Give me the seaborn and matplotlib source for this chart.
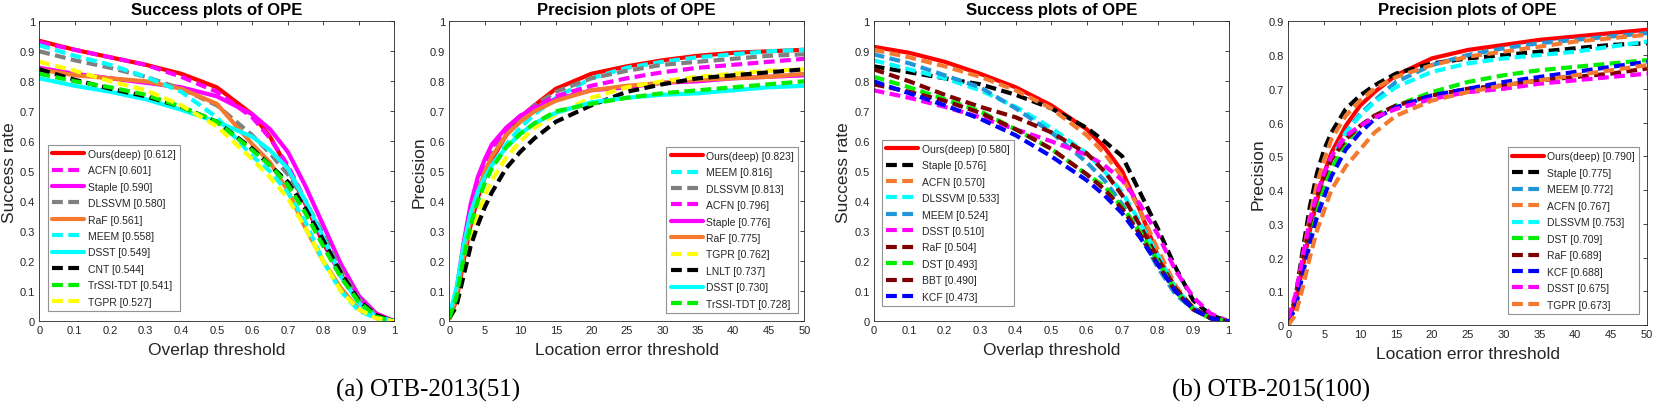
import numpy as np
import matplotlib
matplotlib.use("Agg")
import matplotlib.pyplot as plt
import seaborn as sns

sns.set_theme(style="white")
plt.rcParams['font.family'] = ['Liberation Sans', 'DejaVu Sans']

# x grids
overlap = [0, .1, .2, .3, .4, .5, .6, .65, .7, .75, .8, .85, .9, .95, 1.0]
loc_err = [0, 1, 2, 3, 4, 5, 6, 8, 10, 12, 15, 20, 25, 30, 35, 40, 45, 50]

# (a) OTB-2013 success
a_succ_names = ["Ours(deep) [0.612]", "ACFN [0.601]", "Staple [0.590]", "DLSSVM [0.580]", "RaF [0.561]",
                "MEEM [0.558]", "DSST [0.549]", "CNT [0.544]", "TrSSI-TDT [0.541]", "TGPR [0.527]"]
a_succ_ours = [0.935, 0.905, 0.88, 0.855, 0.825, 0.78, 0.69, 0.615, 0.51, 0.39, 0.26, 0.155, 0.075, 0.025, 0.0]
a_succ_acfn = [0.93, 0.905, 0.88, 0.855, 0.815, 0.765, 0.68, 0.61, 0.52, 0.40, 0.27, 0.15, 0.07, 0.02, 0]
a_succ_staple = [0.845, 0.825, 0.81, 0.795, 0.78, 0.75, 0.69, 0.64, 0.565, 0.45, 0.32, 0.19, 0.085, 0.025, 0]
a_succ_dlssvm = [0.90, 0.87, 0.845, 0.815, 0.775, 0.72, 0.62, 0.56, 0.49, 0.40, 0.29, 0.17, 0.075, 0.02, 0]
a_succ_raf = [0.84, 0.82, 0.81, 0.80, 0.775, 0.725, 0.59, 0.53, 0.435, 0.31, 0.20, 0.11, 0.04, 0.01, 0]
a_succ_meem = [0.92, 0.885, 0.855, 0.815, 0.765, 0.68, 0.55, 0.50, 0.43, 0.33, 0.20, 0.10, 0.035, 0.01, 0]
a_succ_dsst = [0.81, 0.785, 0.765, 0.74, 0.705, 0.665, 0.615, 0.57, 0.51, 0.40, 0.28, 0.15, 0.06, 0.015, 0]
a_succ_cnt = [0.84, 0.805, 0.775, 0.75, 0.715, 0.665, 0.575, 0.52, 0.465, 0.375, 0.27, 0.16, 0.07, 0.02, 0]
a_succ_trssi = [0.825, 0.80, 0.78, 0.755, 0.715, 0.665, 0.57, 0.52, 0.455, 0.36, 0.25, 0.145, 0.065, 0.015, 0]
a_succ_tgpr = [0.865, 0.835, 0.80, 0.77, 0.72, 0.65, 0.54, 0.48, 0.41, 0.31, 0.20, 0.10, 0.04, 0.01, 0]

# (a) OTB-2013 precision
a_prec_names = ["Ours(deep) [0.823]", "MEEM [0.816]", "DLSSVM [0.813]", "ACFN [0.796]", "Staple [0.776]",
                "RaF [0.775]", "TGPR [0.762]", "LNLT [0.737]", "DSST [0.730]", "TrSSI-TDT [0.728]"]
a_prec_ours = [0.01, 0.07, 0.2, 0.32, 0.41, 0.48, 0.54, 0.62, 0.68, 0.72, 0.775, 0.825, 0.85, 0.87, 0.885, 0.895, 0.90, 0.905]
a_prec_meem = [0.01, 0.08, 0.22, 0.33, 0.41, 0.47, 0.52, 0.59, 0.645, 0.69, 0.745, 0.81, 0.845, 0.865, 0.88, 0.89, 0.9, 0.905]
a_prec_dlssvm = [0.01, 0.08, 0.22, 0.34, 0.43, 0.50, 0.56, 0.63, 0.68, 0.72, 0.765, 0.81, 0.835, 0.855, 0.865, 0.875, 0.885, 0.89]
a_prec_acfn = [0.01, 0.09, 0.24, 0.37, 0.46, 0.53, 0.58, 0.64, 0.685, 0.715, 0.75, 0.785, 0.81, 0.83, 0.845, 0.855, 0.865, 0.875]
a_prec_staple = [0.01, 0.1, 0.26, 0.39, 0.48, 0.54, 0.59, 0.645, 0.685, 0.71, 0.74, 0.77, 0.78, 0.795, 0.80, 0.81, 0.815, 0.82]
a_prec_raf = [0.01, 0.08, 0.22, 0.34, 0.43, 0.50, 0.55, 0.62, 0.665, 0.70, 0.735, 0.77, 0.785, 0.795, 0.805, 0.81, 0.815, 0.825]
a_prec_tgpr = [0.01, 0.05, 0.16, 0.27, 0.35, 0.42, 0.47, 0.545, 0.60, 0.645, 0.69, 0.745, 0.78, 0.80, 0.815, 0.825, 0.835, 0.84]
a_prec_lnlt = [0.01, 0.05, 0.15, 0.25, 0.32, 0.38, 0.43, 0.51, 0.565, 0.61, 0.665, 0.72, 0.765, 0.79, 0.81, 0.82, 0.83, 0.84]
a_prec_dsst = [0.02, 0.11, 0.25, 0.36, 0.43, 0.48, 0.52, 0.58, 0.625, 0.66, 0.695, 0.73, 0.745, 0.755, 0.76, 0.77, 0.78, 0.785]
a_prec_trssi = [0.01, 0.08, 0.21, 0.32, 0.40, 0.46, 0.51, 0.58, 0.625, 0.66, 0.70, 0.725, 0.745, 0.76, 0.77, 0.78, 0.79, 0.80]

# (b) OTB-2015 success
b_succ_names = ["Ours(deep) [0.580]", "Staple [0.576]", "ACFN [0.570]", "DLSSVM [0.533]", "MEEM [0.524]",
                "DSST [0.510]", "RaF [0.504]", "DST [0.493]", "BBT [0.490]", "KCF [0.473]"]
b_succ_ours = [0.915, 0.895, 0.865, 0.825, 0.78, 0.72, 0.64, 0.58, 0.50, 0.37, 0.22, 0.11, 0.04, 0.01, 0]
b_succ_staple = [0.85, 0.83, 0.81, 0.79, 0.755, 0.71, 0.645, 0.60, 0.55, 0.43, 0.31, 0.18, 0.07, 0.02, 0]
b_succ_acfn = [0.905, 0.88, 0.85, 0.815, 0.77, 0.71, 0.62, 0.56, 0.48, 0.37, 0.24, 0.12, 0.04, 0.01, 0]
b_succ_dlssvm = [0.87, 0.84, 0.81, 0.77, 0.715, 0.645, 0.56, 0.50, 0.43, 0.33, 0.22, 0.11, 0.045, 0.01, 0]
b_succ_meem = [0.89, 0.86, 0.82, 0.78, 0.71, 0.63, 0.53, 0.47, 0.39, 0.29, 0.18, 0.09, 0.04, 0.01, 0]
b_succ_dsst = [0.77, 0.745, 0.715, 0.68, 0.64, 0.60, 0.555, 0.52, 0.47, 0.39, 0.29, 0.17, 0.08, 0.025, 0]
b_succ_raf = [0.84, 0.80, 0.755, 0.715, 0.68, 0.63, 0.56, 0.50, 0.42, 0.32, 0.21, 0.11, 0.045, 0.01, 0]
b_succ_dst = [0.815, 0.78, 0.74, 0.70, 0.64, 0.575, 0.49, 0.45, 0.38, 0.30, 0.20, 0.10, 0.04, 0.01, 0]
b_succ_bbt = [0.79, 0.765, 0.735, 0.695, 0.64, 0.575, 0.49, 0.44, 0.375, 0.29, 0.19, 0.10, 0.04, 0.01, 0]
b_succ_kcf = [0.80, 0.76, 0.72, 0.675, 0.62, 0.55, 0.47, 0.42, 0.36, 0.28, 0.19, 0.10, 0.04, 0.01, 0]

# (b) OTB-2015 precision
b_prec_names = ["Ours(deep) [0.790]", "Staple [0.775]", "MEEM [0.772]", "ACFN [0.767]", "DLSSVM [0.753]",
                "DST [0.709]", "RaF [0.689]", "KCF [0.688]", "DSST [0.675]", "TGPR [0.673]"]
b_prec_ours = [0.01, 0.07, 0.17, 0.28, 0.37, 0.45, 0.51, 0.59, 0.65, 0.69, 0.74, 0.79, 0.815, 0.83, 0.845, 0.855, 0.865, 0.875]
b_prec_staple = [0.01, 0.08, 0.22, 0.35, 0.45, 0.52, 0.57, 0.64, 0.68, 0.71, 0.745, 0.775, 0.79, 0.80, 0.81, 0.82, 0.83, 0.835]
b_prec_meem = [0.01, 0.06, 0.16, 0.26, 0.35, 0.43, 0.49, 0.57, 0.625, 0.665, 0.72, 0.77, 0.80, 0.82, 0.835, 0.845, 0.855, 0.865]
b_prec_acfn = [0.01, 0.07, 0.2, 0.32, 0.42, 0.49, 0.55, 0.62, 0.665, 0.70, 0.735, 0.77, 0.795, 0.81, 0.825, 0.84, 0.85, 0.86]
b_prec_dlssvm = [0.01, 0.06, 0.16, 0.26, 0.35, 0.43, 0.49, 0.57, 0.62, 0.66, 0.705, 0.75, 0.775, 0.79, 0.80, 0.81, 0.825, 0.84]
b_prec_dst = [0.01, 0.06, 0.16, 0.26, 0.34, 0.41, 0.46, 0.54, 0.59, 0.62, 0.65, 0.69, 0.72, 0.74, 0.755, 0.765, 0.775, 0.785]
b_prec_raf = [0.01, 0.07, 0.19, 0.30, 0.38, 0.44, 0.49, 0.55, 0.59, 0.62, 0.65, 0.68, 0.70, 0.71, 0.725, 0.735, 0.745, 0.76]
b_prec_kcf = [0.01, 0.05, 0.15, 0.24, 0.32, 0.38, 0.44, 0.52, 0.57, 0.61, 0.645, 0.68, 0.70, 0.72, 0.735, 0.75, 0.765, 0.78]
b_prec_dsst = [0.02, 0.09, 0.2, 0.31, 0.39, 0.45, 0.5, 0.56, 0.59, 0.615, 0.64, 0.67, 0.69, 0.70, 0.715, 0.725, 0.735, 0.745]
b_prec_tgpr = [0.0, 0.03, 0.11, 0.2, 0.28, 0.34, 0.40, 0.47, 0.52, 0.57, 0.62, 0.665, 0.69, 0.71, 0.725, 0.74, 0.755, 0.77]

RED, MAG, GRAY, ORG, CYAN = "#ff0000", "#ff00ff", "#808080", "#f47a30", "#00ffff"
BLK, GRN, YEL, SKY, DRED, BLUE = "#000000", "#00ee00", "#ffff00", "#2196d8", "#7f0000", "#0000ff"
SOLID = "-"
DASH = (0, (2.6, 1.3))

panels = [
    dict(x=overlap, names=a_succ_names,
         ys=[a_succ_ours, a_succ_acfn, a_succ_staple, a_succ_dlssvm, a_succ_raf,
             a_succ_meem, a_succ_dsst, a_succ_cnt, a_succ_trssi, a_succ_tgpr],
         colors=[RED, MAG, MAG, GRAY, ORG, CYAN, CYAN, BLK, GRN, YEL],
         styles=[SOLID, DASH, SOLID, DASH, SOLID, DASH, SOLID, DASH, DASH, DASH],
         title="Success plots of OPE", xlabel="Overlap threshold", ylabel="Success rate",
         pos=[39.3, 22.3, 394.3, 322.3], kind="succ", ymax=1.0,
         loc="lower left", anchor=(48, 312)),
    dict(x=loc_err, names=a_prec_names,
         ys=[a_prec_ours, a_prec_meem, a_prec_dlssvm, a_prec_acfn, a_prec_staple,
             a_prec_raf, a_prec_tgpr, a_prec_lnlt, a_prec_dsst, a_prec_trssi],
         colors=[RED, CYAN, GRAY, MAG, MAG, ORG, YEL, BLK, CYAN, GRN],
         styles=[SOLID, DASH, DASH, DASH, SOLID, SOLID, DASH, DASH, SOLID, DASH],
         title="Precision plots of OPE", xlabel="Location error threshold", ylabel="Precision",
         pos=[449.3, 22.3, 804.3, 322.3], kind="prec", ymax=1.0,
         loc="lower right", anchor=(798, 314)),
    dict(x=overlap, names=b_succ_names,
         ys=[b_succ_ours, b_succ_staple, b_succ_acfn, b_succ_dlssvm, b_succ_meem,
             b_succ_dsst, b_succ_raf, b_succ_dst, b_succ_bbt, b_succ_kcf],
         colors=[RED, BLK, ORG, CYAN, SKY, MAG, DRED, GRN, DRED, BLUE],
         styles=[SOLID] + [DASH] * 9,
         title="Success plots of OPE", xlabel="Overlap threshold", ylabel="Success rate",
         pos=[873.7, 22.3, 1228.7, 322.3], kind="succ", ymax=1.0,
         loc="lower left", anchor=(882, 307)),
    dict(x=loc_err, names=b_prec_names,
         ys=[b_prec_ours, b_prec_staple, b_prec_meem, b_prec_acfn, b_prec_dlssvm,
             b_prec_dst, b_prec_raf, b_prec_kcf, b_prec_dsst, b_prec_tgpr],
         colors=[RED, BLK, SKY, ORG, CYAN, GRN, DRED, BLUE, MAG, ORG],
         styles=[SOLID] + [DASH] * 9,
         title="Precision plots of OPE", xlabel="Location error threshold", ylabel="Precision",
         pos=[1288.3, 22.3, 1647.0, 326.0], kind="prec", ymax=0.9,
         loc="lower right", anchor=(1639, 314.7)),
]

W, H = 1653, 410
fig = plt.figure(figsize=(W / 100, H / 100), dpi=100)
AX_COL = "#262626"

for p in panels:
    l, t, r, b = p["pos"]
    ax = fig.add_axes([l / W, 1 - b / H, (r - l) / W, (b - t) / H])
    for y, name, c, ls in zip(p["ys"], p["names"], p["colors"], p["styles"]):
        sns.lineplot(x=p["x"], y=y, ax=ax, color=c, linestyle=ls, linewidth=3.0, label=name)
    if p["kind"] == "succ":
        ax.set_xlim(0, 1)
        ax.set_xticks(np.arange(0, 1.01, 0.1))
        ax.set_xticklabels(["0"] + [f"{v:.1f}" for v in np.arange(0.1, 0.95, 0.1)] + ["1"])
    else:
        ax.set_xlim(0, 50)
        ax.set_xticks(np.arange(0, 51, 5))
    ax.set_ylim(0, p["ymax"])
    yt = np.arange(0, p["ymax"] + 0.001, 0.1)
    ax.set_yticks(yt)
    ax.set_yticklabels(["0"] + [f"{v:.1f}" for v in yt[1:-1]] + ["1" if p["ymax"] == 1.0 else f"{yt[-1]:.1f}"])
    ax.tick_params(direction="in", length=3, width=0.6, top=True, right=True,
                   labelsize=8, colors=AX_COL, pad=3)
    for s in ax.spines.values():
        s.set_color(AX_COL)
        s.set_linewidth(0.6)
    ax.set_title(p["title"], fontsize=12, fontweight="bold", color="black", pad=5)
    ax.set_xlabel(p["xlabel"], fontsize=12.5, color=AX_COL, labelpad=5)
    ax.set_ylabel(p["ylabel"], fontsize=12.5, color=AX_COL, labelpad=2)
    ax_x, ax_y = p["anchor"]
    leg = ax.legend(loc=p["loc"], bbox_to_anchor=(ax_x / W, 1 - ax_y / H),
                    bbox_transform=fig.transFigure, fontsize=7.5, frameon=True, fancybox=False,
                    handlelength=3.1, handletextpad=0.3, labelspacing=0.62,
                    borderpad=0.4, borderaxespad=0)
    leg.get_frame().set_edgecolor("#777777")
    leg.get_frame().set_linewidth(0.8)

fig.text(428 / W, 1 - 390 / H, "(a) OTB-2013(51)", ha="center", va="center",
         fontsize=18, family="Liberation Serif", color="black")
fig.text(1271 / W, 1 - 390 / H, "(b) OTB-2015(100)", ha="center", va="center",
         fontsize=18, family="Liberation Serif", color="black")

fig.savefig("out.png", dpi=100)
